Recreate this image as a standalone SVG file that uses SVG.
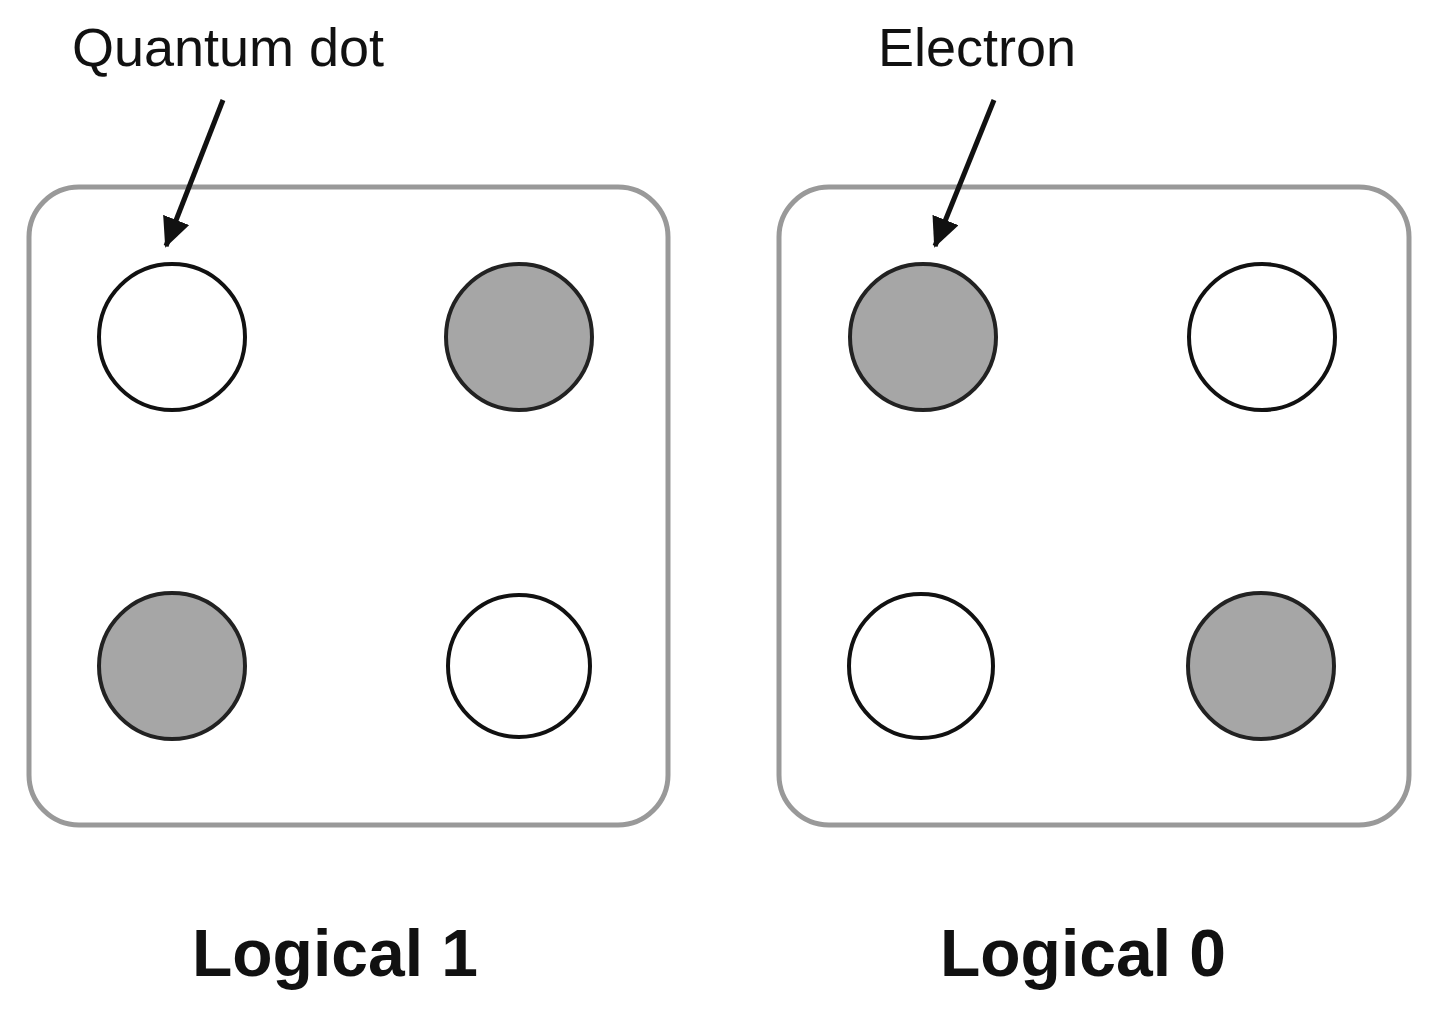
<svg xmlns="http://www.w3.org/2000/svg" width="1434" height="1019" viewBox="0 0 1434 1019">
<defs>
<marker id="ah" markerWidth="30" markerHeight="28" refX="28" refY="14" orient="auto" markerUnits="userSpaceOnUse" viewBox="0 0 30 28"><path d="M0,0 L30,14 L0,28 z" fill="#111"/></marker>
<style>
.cell{fill:#fff;stroke:#999;stroke-width:5}
.e{fill:#fff;stroke:#111;stroke-width:4}
.f{fill:#a6a6a6;stroke:#222;stroke-width:4}
.lbl{font-family:"Liberation Sans",Arial,sans-serif;font-size:54px;fill:#111}
.big{font-family:"Liberation Sans",Arial,sans-serif;font-size:66px;font-weight:bold;fill:#111}
</style>
</defs>
<rect width="1434" height="1019" fill="#fff"/>
<g id="cell1"><rect class="cell" x="29" y="187" width="639" height="638" rx="50"/>
<circle class="e" cx="172" cy="337" r="73"/><circle class="f" cx="519" cy="337" r="73"/>
<circle class="f" cx="172" cy="666" r="73"/><circle class="e" cx="519" cy="666" r="71"/>
<text class="big" x="335" y="976" text-anchor="middle">Logical 1</text></g>
<g id="cell2"><rect class="cell" x="779" y="187" width="630" height="638" rx="50"/>
<circle class="f" cx="923" cy="337" r="73"/><circle class="e" cx="1262" cy="337" r="73"/>
<circle class="e" cx="921" cy="666" r="72"/><circle class="f" cx="1261" cy="666" r="73"/>
<text class="big" x="1083" y="976" text-anchor="middle">Logical 0</text></g>
<g id="labels"><text class="lbl" x="228" y="66" text-anchor="middle">Quantum dot</text>
<text class="lbl" x="977" y="66" text-anchor="middle">Electron</text></g>
<g id="connectors" stroke="#111" stroke-width="5" fill="none">
<line x1="223" y1="100" x2="166" y2="246" marker-end="url(#ah)"/>
<line x1="994" y1="100" x2="935" y2="246" marker-end="url(#ah)"/></g>
</svg>
